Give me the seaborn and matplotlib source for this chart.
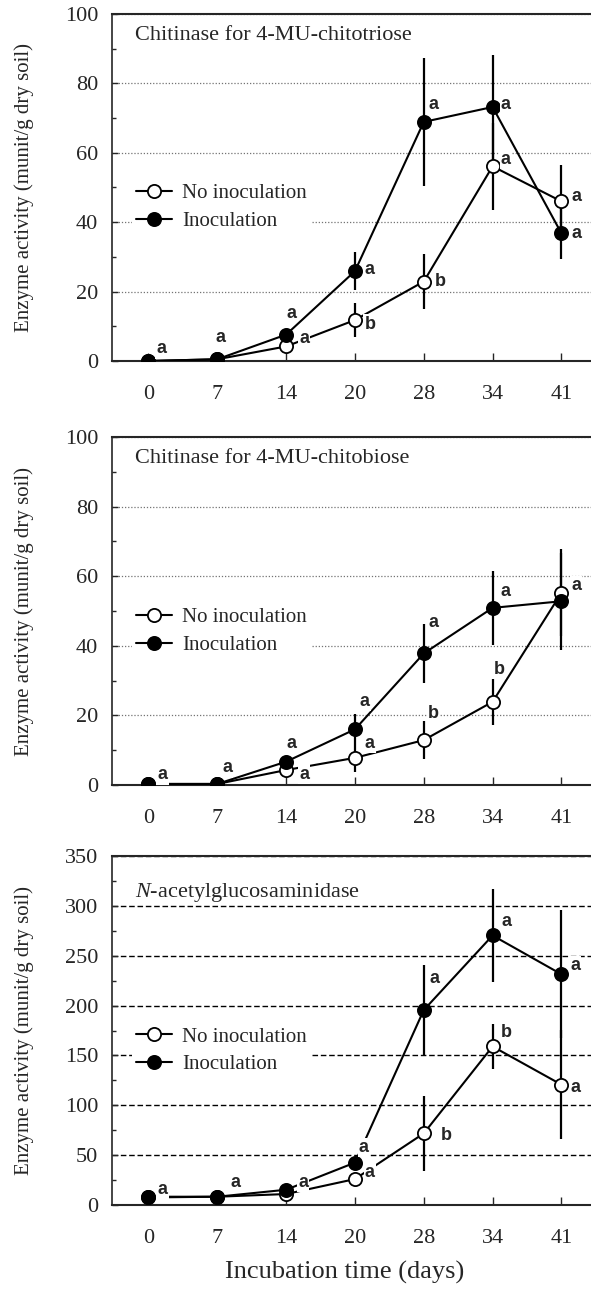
import matplotlib
matplotlib.use("Agg")
import matplotlib.pyplot as plt
import pandas as pd
import seaborn as sns
from matplotlib.ticker import MultipleLocator


DAYS = ["0", "7", "14", "20", "28", "34", "41"]
SERIES = ["No inoculation", "Inoculation"]

# Chitinase for 4-MU-chitotriose
TRIOSE_NO = [0.0, 0.5, 4.2, 11.8, 22.9, 56.1, 46.0]
TRIOSE_NO_ERR = [0, 0, 1.0, 5.0, 8.0, 12.5, 10.5]
TRIOSE_INOC = [0.0, 0.5, 7.6, 25.9, 68.9, 73.2, 36.8]
TRIOSE_INOC_ERR = [0, 0, 1.5, 5.5, 18.5, 15.0, 7.5]
TRIOSE_NO_LETTERS = ["", "", "a", "b", "b", "a", "a"]
TRIOSE_INOC_LETTERS = ["a", "a", "a", "a", "a", "a", "a"]

# Chitinase for 4-MU-chitobiose
BIOSE_NO = [0.3, 0.3, 4.3, 7.8, 12.9, 23.9, 55.2]
BIOSE_NO_ERR = [0, 0, 1.0, 4.0, 5.5, 6.7, 12.5]
BIOSE_INOC = [0.3, 0.3, 6.7, 16.0, 37.8, 50.9, 52.8]
BIOSE_INOC_ERR = [0, 0, 1.0, 4.3, 8.5, 10.7, 14.0]
BIOSE_NO_LETTERS = ["", "", "a", "a", "b", "b", "a"]
BIOSE_INOC_LETTERS = ["a", "a", "a", "a", "a", "a", ""]

# N-acetylglucosaminidase
NAG_NO = [8.3, 8.3, 11.0, 26.0, 71.8, 159.0, 120.7]
NAG_NO_ERR = [0, 0, 2.0, 3.0, 37.5, 22.5, 55.0]
NAG_INOC = [7.6, 8.3, 15.3, 42.5, 195.5, 270.3, 231.4]
NAG_INOC_ERR = [0, 0, 2.0, 5.0, 45.0, 47.0, 64.0]
NAG_NO_LETTERS = ["", "", "", "a", "b", "b", "a"]
NAG_INOC_LETTERS = ["a", "a", "a", "a", "a", "a", "a"]

# letter offsets from their point, in pixels
TRIOSE_NO_OFF = [(0, 0), (0, 0), (18, 8), (15, -4), (17, 0), (13, 7), (15, 5)]
TRIOSE_INOC_OFF = [(13, 12), (3, 22), (5, 21), (15, 2), (10, 17), (13, 2), (15, 0)]
BIOSE_NO_OFF = [(0, 0), (0, 0), (18, -4), (15, 14), (10, 27), (7, 32), (15, 7)]
BIOSE_INOC_OFF = [(14, 9), (10, 16), (5, 18), (10, 28), (10, 31), (13, 16), (0, 0)]
NAG_NO_OFF = [(0, 0), (0, 0), (0, 0), (15, 7), (23, -2), (14, 14), (14, -3)]
NAG_INOC_OFF = [(14, 8), (18, 14), (17, 7), (9, 15), (11, 32), (14, 14), (14, 9)]


def draw_panel(ax, no, no_err, inoc, inoc_err, letters, offsets, title, ymax, step, dashed):
    frame = pd.DataFrame(
        {
            "pos": list(range(len(DAYS))) * 2,
            "activity": no + inoc,
            "treatment": [SERIES[0]] * len(DAYS) + [SERIES[1]] * len(DAYS),
        }
    )
    for values, err in [(no, no_err), (inoc, inoc_err)]:
        ax.errorbar(range(len(DAYS)), values, yerr=err, fmt="none",
                    ecolor="black", elinewidth=1.6, capsize=0, zorder=2)
    for name, face in zip(SERIES, ["white", "black"]):
        sns.lineplot(
            data=frame[frame["treatment"] == name], x="pos", y="activity",
            ax=ax, color="black", marker="o", markersize=9.5,
            markerfacecolor=face, markeredgecolor="black", markeredgewidth=1.3,
            linewidth=1.5, label=name, zorder=3,
        )

    values_pair = [no, inoc]
    for k in range(2):
        for i, letter in enumerate(letters[k]):
            if not letter:
                continue
            ax.annotate(letter, xy=(i, values_pair[k][i]), xytext=offsets[k][i],
                        textcoords="offset pixels", ha="center", va="center",
                        fontsize=13, fontweight="bold", family="Liberation Sans",
                        bbox=dict(facecolor="white", edgecolor="none", pad=0.8),
                        zorder=4)

    ax.set_xlim(-0.53, 6.43)
    ax.set_ylim(0, ymax)
    ax.set_xticks(range(len(DAYS)))
    ax.set_xticklabels(DAYS)
    ax.yaxis.set_major_locator(MultipleLocator(step))
    ax.yaxis.set_minor_locator(MultipleLocator(step / 2))
    ax.tick_params(axis="x", direction="in", length=6, width=1, pad=17, labelsize=16)
    ax.tick_params(axis="y", which="major", direction="in", length=4, width=1, pad=10, labelsize=16)
    ax.tick_params(axis="y", which="minor", direction="in", length=3, width=1)
    ax.set_xlabel("")
    ax.set_ylabel("Enzyme activity (munit/g dry soil)", fontsize=15)
    ax.yaxis.set_label_coords(-0.163, 0.5)

    if dashed:
        ax.yaxis.grid(True, linestyle=(0, (4, 2)), color="black", linewidth=1)
    else:
        ax.yaxis.grid(True, linestyle=(0, (1, 1.5)), color="0.45", linewidth=0.9)
    ax.set_axisbelow(True)

    ax.spines["right"].set_visible(False)
    ax.spines["top"].set_linewidth(1.5)
    ax.spines["bottom"].set_linewidth(1.5)
    ax.spines["left"].set_linewidth(1.2)

    ax.legend(loc="center left", bbox_to_anchor=(0.042, 0.442), frameon=True,
              fancybox=False, edgecolor="none", facecolor="white", framealpha=1,
              borderpad=0.2, borderaxespad=0, handlelength=1.7, handletextpad=0.5,
              labelspacing=0.4, fontsize=15)

    title_y = 0.894 if dashed else 0.938
    ax.text(0.048, title_y, title, transform=ax.transAxes, fontsize=16,
            ha="left", va="center")


def main() -> None:
    sns.set_style("ticks")
    plt.rcParams["font.family"] = ["Liberation Serif", "DejaVu Serif"]
    plt.rcParams["mathtext.fontset"] = "custom"
    plt.rcParams["mathtext.rm"] = "Liberation Serif"
    plt.rcParams["mathtext.it"] = "Liberation Serif:italic"

    fig = plt.figure(figsize=(5.91, 13.05), dpi=100)
    left = 112 / 591
    width = 1 - left
    panels = [
        (14, 361, TRIOSE_NO, TRIOSE_NO_ERR, TRIOSE_INOC, TRIOSE_INOC_ERR,
         (TRIOSE_NO_LETTERS, TRIOSE_INOC_LETTERS), (TRIOSE_NO_OFF, TRIOSE_INOC_OFF),
         "Chitinase for 4-MU-chitotriose", 100, 20, False),
        (437, 785, BIOSE_NO, BIOSE_NO_ERR, BIOSE_INOC, BIOSE_INOC_ERR,
         (BIOSE_NO_LETTERS, BIOSE_INOC_LETTERS), (BIOSE_NO_OFF, BIOSE_INOC_OFF),
         "Chitinase for 4-MU-chitobiose", 100, 20, False),
        (856, 1205, NAG_NO, NAG_NO_ERR, NAG_INOC, NAG_INOC_ERR,
         (NAG_NO_LETTERS, NAG_INOC_LETTERS), (NAG_NO_OFF, NAG_INOC_OFF),
         r"$N$-acetylglucosaminidase", 350, 50, True),
    ]
    for top, bottom, no, no_err, inoc, inoc_err, letters, offsets, title, ymax, step, dashed in panels:
        ax = fig.add_axes([left, 1 - bottom / 1305, width, (bottom - top) / 1305])
        draw_panel(ax, no, no_err, inoc, inoc_err, letters, offsets, title, ymax, step, dashed)

    fig.text(345 / 591, 1 - 1272 / 1305, "Incubation time (days)",
             ha="center", va="center", fontsize=19)
    fig.savefig("out.png", dpi=100)
    plt.close(fig)


if __name__ == "__main__":
    main()
